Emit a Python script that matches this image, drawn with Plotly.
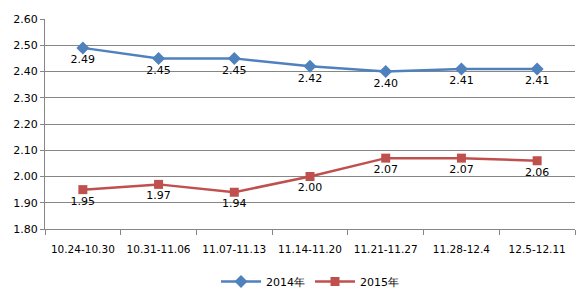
import plotly.graph_objects as go

categories = ["10.24-10.30", "10.31-11.06", "11.07-11.13", "11.14-11.20",
              "11.21-11.27", "11.28-12.4", "12.5-12.11"]
s2014 = [2.49, 2.45, 2.45, 2.42, 2.40, 2.41, 2.41]
s2015 = [1.95, 1.97, 1.94, 2.00, 2.07, 2.07, 2.06]
yticks = [1.80, 1.90, 2.00, 2.10, 2.20, 2.30, 2.40, 2.50, 2.60]

FONT = "DejaVu Sans"
fig = go.Figure()
fig.add_trace(go.Scatter(
    x=categories, y=s2014, name="2014年", mode="lines+markers+text",
    line=dict(color="#4F81BD", width=2.5),
    marker=dict(symbol="diamond", size=10, color="#4F81BD"),
    text=[f"{v:.2f}" for v in s2014], textposition="bottom center",
    textfont=dict(family=FONT, size=11, color="#000000"),
))
fig.add_trace(go.Scatter(
    x=categories, y=s2015, name="2015年", mode="lines+markers+text",
    line=dict(color="#C0504D", width=2.5),
    marker=dict(symbol="square", size=9, color="#C0504D"),
    text=[f"{v:.2f}" for v in s2015], textposition="bottom center",
    textfont=dict(family=FONT, size=11, color="#000000"),
))
fig.update_layout(
    width=587, height=299,
    margin=dict(l=45, r=12, t=19, b=70, autoexpand=False),
    paper_bgcolor="white", plot_bgcolor="white",
    font=dict(family=FONT, size=11, color="#000000"),
    showlegend=True,
    legend=dict(orientation="h", x=0.5, xanchor="center", y=-0.25, yanchor="middle",
                font=dict(family=FONT, size=11), itemwidth=40),
    xaxis=dict(type="category", tickson="boundaries", ticks="outside", ticklen=5,
               tickcolor="#868686", showline=True, linecolor="#868686", linewidth=1,
               showgrid=False, range=[-0.5, 6.5], tickangle=0, automargin=False,
               ticklabelstandoff=10, tickfont=dict(size=10.5)),
    yaxis=dict(range=[1.80, 2.60], tickvals=yticks, ticktext=[f"{v:.2f}" for v in yticks],
               ticks="outside", ticklen=4, tickcolor="#868686", automargin=False,
               showline=True, linecolor="#868686", linewidth=1,
               showgrid=True, gridcolor="#868686", gridwidth=1, zeroline=False,
               tickfont=dict(size=11)),
)
fig.write_html("out.html")
